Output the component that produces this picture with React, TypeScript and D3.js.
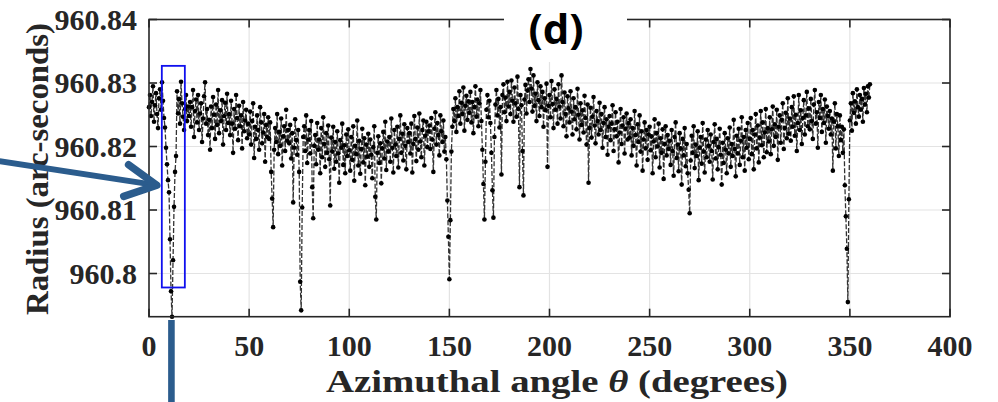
import React from 'react';
import * as d3 from 'd3';

const xTicks = [0, 50, 100, 150, 200, 250, 300, 350, 400];
const xTickLabels = ['0', '50', '100', '150', '200', '250', '300', '350', '400'];
const yTicks = [960.8, 960.81, 960.82, 960.83, 960.84];
const yTickLabels = ['960.8', '960.81', '960.82', '960.83', '960.84'];

// sampling step of the azimuthal angle (degrees)
const ANGLE_STEP = 0.5;

// radius (arc-seconds), one value every 0.5 degree from 0 to 360
const radius = [
  // 0 - 9.5
  960.8262, 960.8281, 960.8248, 960.8270, 960.8295, 960.8239, 960.8265, 960.8284, 960.8251, 960.8229,
  960.8276, 960.8290, 960.8258, 960.8301, 960.8272, 960.8245, 960.8230, 960.8198, 960.8172, 960.8147,
  // 10 - 19.5
  960.8128, 960.8054, 960.7972, 960.7932, 960.8021, 960.8105, 960.8160, 960.8185, 960.8287, 960.8252,
  960.8275, 960.8236, 960.8302, 960.8268, 960.8247, 960.8226, 960.8259, 960.8281, 960.8240, 960.8263,
  // 20 - 29.5
  960.8248, 960.8270, 960.8231, 960.8262, 960.8289, 960.8215, 960.8256, 960.8274, 960.8238, 960.8281,
  960.8226, 960.8252, 960.8268, 960.8207, 960.8244, 960.8279, 960.8301, 960.8236, 960.8259, 960.8218,
  // 30 - 39.5
  960.8242, 960.8195, 960.8263, 960.8229, 960.8278, 960.8250, 960.8212, 960.8266, 960.8234, 960.8289,
  960.8221, 960.8257, 960.8240, 960.8273, 960.8203, 960.8248, 960.8269, 960.8226, 960.8283, 960.8237,
  // 40 - 49.5
  960.8251, 960.8218, 960.8272, 960.8236, 960.8190, 960.8259, 960.8228, 960.8281, 960.8245, 960.8210,
  960.8264, 960.8232, 960.8249, 960.8197, 960.8270, 960.8224, 960.8241, 960.8258, 960.8213, 960.8236,
  // 50 - 59.5
  960.8219, 960.8255, 960.8203, 960.8240, 960.8268, 960.8182, 960.8231, 960.8212, 960.8249, 960.8226,
  960.8195, 960.8262, 960.8238, 960.8205, 960.8222, 960.8251, 960.8176, 960.8234, 960.8215, 960.8246,
  // 60 - 69.5
  960.8212, 960.8238, 960.8160, 960.8118, 960.8073, 960.8195, 960.8229, 960.8207, 960.8251, 960.8188,
  960.8223, 960.8201, 960.8244, 960.8170, 960.8216, 960.8232, 960.8193, 960.8258, 960.8209, 960.8226,
  // 70 - 79.5
  960.8205, 960.8234, 960.8181, 960.8221, 960.8112, 960.8198, 960.8243, 960.8210, 960.8187, 960.8226,
  960.8160, 960.7987, 960.7942, 960.8104, 960.8215, 960.8232, 960.8193, 960.8249, 960.8174, 960.8211,
  // 80 - 89.5
  960.8226, 960.8189, 960.8240, 960.8136, 960.8087, 960.8201, 960.8218, 960.8172, 960.8237, 960.8195,
  960.8211, 960.8158, 960.8229, 960.8183, 960.8246, 960.8204, 960.8168, 960.8221, 960.8190, 960.8233,
  // 90 - 99.5
  960.8180, 960.8107, 960.8214, 960.8192, 960.8231, 960.8165, 960.8207, 960.8176, 960.8224, 960.8189,
  960.8143, 960.8210, 960.8198, 960.8236, 960.8171, 960.8202, 960.8158, 960.8219, 960.8185, 960.8227,
  // 100 - 109.5
  960.8194, 960.8162, 960.8215, 960.8179, 960.8232, 960.8146, 960.8201, 960.8188, 960.8241, 960.8170,
  960.8209, 960.8157, 960.8196, 960.8228, 960.8175, 960.8213, 960.8139, 960.8203, 960.8184, 960.8220,
  // 110 - 119.5
  960.8168, 960.8211, 960.8187, 960.8150, 960.8199, 960.8232, 960.8121, 960.8085, 960.8190, 960.8216,
  960.8174, 960.8205, 960.8142, 960.8197, 960.8223, 960.8181, 960.8239, 960.8163, 960.8208, 960.8192,
  // 120 - 129.5
  960.8215, 960.8176, 960.8244, 960.8198, 960.8159, 960.8226, 960.8203, 960.8185, 960.8231, 960.8167,
  960.8212, 960.8249, 960.8190, 960.8220, 960.8178, 960.8235, 960.8201, 960.8164, 960.8229, 960.8207,
  // 130 - 139.5
  960.8221, 960.8189, 960.8236, 960.8159, 960.8204, 960.8248, 960.8212, 960.8177, 960.8230, 960.8195,
  960.8252, 960.8208, 960.8183, 960.8226, 960.8241, 960.8170, 960.8217, 960.8239, 960.8199, 960.8224,
  // 140 - 149.5
  960.8233, 960.8196, 960.8245, 960.8211, 960.8160, 960.8228, 960.8254, 960.8203, 960.8237, 960.8218,
  960.8186, 960.8249, 960.8224, 960.8207, 960.8241, 960.8192, 960.8215, 960.8180, 960.8115, 960.8058,
  // 150 - 159.5
  960.7991, 960.8084, 960.8192, 960.8231, 960.8259, 960.8240, 960.8276, 960.8223, 960.8262, 960.8248,
  960.8287, 960.8236, 960.8269, 960.8251, 960.8293, 960.8225, 960.8264, 960.8280, 960.8242, 960.8271,
  // 160 - 169.5
  960.8253, 960.8286, 960.8238, 960.8270, 960.8221, 960.8262, 960.8295, 960.8247, 960.8274, 960.8232,
  960.8268, 960.8289, 960.8240, 960.8195, 960.8141, 960.8085, 960.8176, 960.8258, 960.8281, 960.8246,
  // 170 - 179.5
  960.8272, 960.8237, 960.8190, 960.8131, 960.8088, 960.8215, 960.8266, 960.8289, 960.8249, 960.8275,
  960.8230, 960.8262, 960.8156, 960.8281, 960.8298, 960.8254, 960.8277, 960.8240, 960.8302, 960.8263,
  // 180 - 189.5
  960.8286, 960.8251, 960.8304, 960.8272, 960.8239, 960.8293, 960.8268, 960.8247, 960.8310, 960.8259,
  960.8136, 960.8281, 960.8265, 960.8193, 960.8123, 960.8274, 960.8297, 960.8252, 960.8288, 960.8306,
  // 190 - 199.5
  960.8270, 960.8322, 960.8291, 960.8255, 960.8312, 960.8264, 960.8283, 960.8240, 960.8301, 960.8273,
  960.8248, 960.8295, 960.8262, 960.8286, 960.8231, 960.8276, 960.8257, 960.8299, 960.8168, 960.8264,
  // 200 - 209.5
  960.8281, 960.8246, 960.8303, 960.8267, 960.8229, 960.8290, 960.8258, 960.8275, 960.8236, 960.8298,
  960.8263, 960.8244, 960.8312, 960.8270, 960.8232, 960.8285, 960.8251, 960.8216, 960.8279, 960.8260,
  // 210 - 219.5
  960.8238, 960.8287, 960.8255, 960.8219, 960.8276, 960.8243, 960.8262, 960.8227, 960.8291, 960.8250,
  960.8211, 960.8268, 960.8234, 960.8257, 960.8222, 960.8280, 960.8245, 960.8203, 960.8266, 960.8143,
  // 220 - 229.5
  960.8229, 960.8261, 960.8214, 960.8247, 960.8278, 960.8233, 960.8205, 960.8256, 960.8240, 960.8219,
  960.8269, 960.8226, 960.8251, 960.8198, 960.8237, 960.8262, 960.8215, 960.8243, 960.8187, 960.8231,
  // 230 - 239.5
  960.8248, 960.8210, 960.8236, 960.8265, 960.8193, 960.8227, 960.8254, 960.8216, 960.8239, 960.8175,
  960.8222, 960.8259, 960.8204, 960.8233, 960.8246, 960.8189, 960.8228, 960.8252, 960.8211, 960.8237,
  // 240 - 249.5
  960.8214, 960.8243, 960.8186, 960.8229, 960.8201, 960.8256, 960.8218, 960.8170, 960.8235, 960.8207,
  960.8249, 960.8192, 960.8224, 960.8162, 960.8211, 960.8238, 960.8197, 960.8226, 960.8179, 960.8219,
  // 250 - 259.5
  960.8231, 960.8194, 960.8216, 960.8158, 960.8208, 960.8243, 960.8183, 960.8221, 960.8200, 960.8236,
  960.8167, 960.8213, 960.8190, 960.8227, 960.8149, 960.8204, 960.8232, 960.8186, 960.8218, 960.8196,
  // 260 - 269.5
  960.8209, 960.8171, 960.8226, 960.8193, 960.8154, 960.8215, 960.8238, 960.8182, 960.8203, 960.8161,
  960.8221, 960.8197, 960.8140, 960.8212, 960.8186, 960.8229, 960.8169, 960.8204, 960.8158, 960.8132,
  // 270 - 279.5
  960.8095, 960.8178, 960.8217, 960.8190, 960.8232, 960.8166, 960.8203, 960.8185, 960.8224, 960.8147,
  960.8198, 960.8215, 960.8173, 960.8237, 960.8192, 960.8159, 960.8211, 960.8183, 960.8226, 960.8201,
  // 280 - 289.5
  960.8176, 960.8219, 960.8193, 960.8148, 960.8207, 960.8235, 960.8181, 960.8212, 960.8164, 960.8199,
  960.8228, 960.8187, 960.8140, 960.8206, 960.8174, 960.8221, 960.8195, 960.8158, 960.8213, 960.8189,
  // 290 - 299.5
  960.8230, 960.8168, 960.8204, 960.8185, 960.8242, 960.8196, 960.8153, 960.8217, 960.8189, 960.8228,
  960.8171, 960.8209, 960.8246, 960.8183, 960.8215, 960.8162, 960.8226, 960.8198, 960.8237, 960.8180,
  // 300 - 309.5
  960.8212, 960.8245, 960.8188, 960.8226, 960.8164, 960.8219, 960.8251, 960.8197, 960.8233, 960.8175,
  960.8214, 960.8256, 960.8202, 960.8238, 960.8183, 960.8222, 960.8259, 960.8191, 960.8229, 960.8208,
  // 310 - 319.5
  960.8246, 960.8188, 960.8227, 960.8263, 960.8201, 960.8235, 960.8215, 960.8258, 960.8179, 960.8231,
  960.8249, 960.8206, 960.8242, 960.8268, 960.8196, 960.8229, 960.8253, 960.8213, 960.8276, 960.8220,
  // 320 - 329.5
  960.8244, 960.8209, 960.8262, 960.8231, 960.8279, 960.8217, 960.8250, 960.8193, 960.8237, 960.8281,
  960.8226, 960.8257, 960.8204, 960.8245, 960.8273, 960.8219, 960.8249, 960.8286, 960.8232, 960.8260,
  // 330 - 339.5
  960.8227, 960.8275, 960.8240, 960.8212, 960.8266, 960.8289, 960.8236, 960.8254, 960.8198, 960.8270,
  960.8245, 960.8281, 960.8223, 960.8259, 960.8237, 960.8274, 960.8206, 960.8263, 960.8248, 960.8228,
  // 340 - 349.5
  960.8256, 960.8219, 960.8244, 960.8162, 960.8239, 960.8268, 960.8197, 960.8251, 960.8232, 960.8185,
  960.8249, 960.8210, 960.8231, 960.8190, 960.8227, 960.8139, 960.8090, 960.8039, 960.7955, 960.8117,
  // 350 - 359.5
  960.8241, 960.8268, 960.8225, 960.8284, 960.8253, 960.8271, 960.8236, 960.8290, 960.8262, 960.8247,
  960.8281, 960.8258, 960.8275, 960.8239, 960.8292, 960.8266, 960.8283, 960.8254, 960.8295, 960.8277,
  // 360
  960.8298,
];

// annotations, in data coordinates (angle in degrees, radius in arc-seconds)
const highlightAngles = [6.4, 17.9];
const highlightRadii = [960.7978, 960.8327];
const arrowStart = [-74.6, 960.8177];
const arrowTip = [3.9, 960.8139];
const markerAngle = 11.2;

const W = 998;
const H = 402;
const X0 = 149;
const X1 = 950;
const Y_TOP = 19.5;
const Y_BOT = 316.7;

const serif = '"Liberation Serif", "Times New Roman", serif';
const TXT = '#262626';
const ANN = '#2b5c8d';

export default function App() {
  const x = d3.scaleLinear().domain([0, 400]).range([X0, X1]);
  const y = d3.scaleLinear().domain([960.7932, 960.84]).range([Y_BOT, Y_TOP]);

  const pts = radius.map((r, i) => [i * ANGLE_STEP, r] as [number, number]);
  const line = d3
    .line<[number, number]>()
    .x((d) => x(d[0]))
    .y((d) => y(d[1]));

  const tick = 8;

  // arrow geometry
  const ax0 = x(arrowStart[0]);
  const ay0 = y(arrowStart[1]);
  const ax1 = x(arrowTip[0]);
  const ay1 = y(arrowTip[1]);
  const len = Math.hypot(ax1 - ax0, ay1 - ay0);
  const ux = (ax1 - ax0) / len;
  const uy = (ay1 - ay0) / len;
  const back = 31;
  const spread = 16;
  const hx = ax1 - ux * back;
  const hy = ay1 - uy * back;
  const arm1 = [hx - uy * spread, hy + ux * spread];
  const arm2 = [hx + uy * spread, hy - ux * spread];

  return (
    <svg
      width={W}
      height={H}
      style={{ position: 'absolute', left: 0, top: 0, background: '#fff' }}
    >
      <rect x={0} y={0} width={W} height={H} fill="#fff" />
      {/* grid */}
      <g stroke="#e3e3e3" strokeWidth={1.2}>
        {xTicks.slice(1, -1).map((t) => (
          <line key={'gx' + t} x1={x(t)} x2={x(t)} y1={Y_TOP} y2={Y_BOT} />
        ))}
        {yTicks.slice(0, -1).map((t) => (
          <line key={'gy' + t} x1={X0} x2={X1} y1={y(t)} y2={y(t)} />
        ))}
      </g>

      {/* data */}
      <path
        d={line(pts) || ''}
        fill="none"
        stroke="#333"
        strokeWidth={1.3}
        strokeDasharray="5,2"
      />
      <g fill="#000">
        {pts.map((d, i) => (
          <circle key={i} cx={x(d[0])} cy={y(d[1])} r={2.3} />
        ))}
      </g>

      {/* axes box */}
      <g stroke={TXT} strokeWidth={1.6} fill="none">
        <rect x={X0} y={Y_TOP} width={X1 - X0} height={Y_BOT - Y_TOP} />
        {xTicks.map((t) => (
          <g key={'tx' + t}>
            <line x1={x(t)} x2={x(t)} y1={Y_BOT} y2={Y_BOT - tick} />
            <line x1={x(t)} x2={x(t)} y1={Y_TOP} y2={Y_TOP + tick} />
          </g>
        ))}
        {yTicks.map((t) => (
          <g key={'ty' + t}>
            <line x1={X0} x2={X0 + tick} y1={y(t)} y2={y(t)} />
            <line x1={X1} x2={X1 - tick} y1={y(t)} y2={y(t)} />
          </g>
        ))}
      </g>

      {/* tick labels */}
      <g fontFamily={serif} fontWeight="bold" fontSize={30} fill={TXT}>
        {xTicks.map((t, i) => (
          <text key={'lx' + t} x={x(t)} y={356} textAnchor="middle">
            {xTickLabels[i]}
          </text>
        ))}
        {yTicks.map((t, i) => (
          <text key={'ly' + t} x={137} y={y(t) + 10} textAnchor="end">
            {yTickLabels[i]}
          </text>
        ))}
      </g>

      {/* axis titles */}
      <text
        x={557}
        y={392}
        textAnchor="middle"
        fontFamily={serif}
        fontWeight="bold"
        fontSize={32}
        fill={TXT}
        textLength={462}
        lengthAdjust="spacingAndGlyphs"
      >
        Azimuthal angle <tspan fontStyle="italic">θ</tspan> (degrees)
      </text>
      <text
        transform={`translate(48,169) rotate(-90)`}
        textAnchor="middle"
        fontFamily={serif}
        fontWeight="bold"
        fontSize={32}
        fill={TXT}
        textLength={292}
        lengthAdjust="spacingAndGlyphs"
      >
        Radius (arc-seconds)
      </text>

      {/* title with white backing over the top axis */}
      <rect x={504} y={0} width={123} height={62} fill="#fff" />
      <text
        x={556}
        y={44}
        textAnchor="middle"
        fontFamily='"Open Sans", "Liberation Sans", sans-serif'
        fontWeight="bold"
        fontSize={42}
        fill="#000"
      >
        (d)
      </text>

      {/* highlight box */}
      <rect
        x={x(highlightAngles[0])}
        y={y(highlightRadii[1])}
        width={x(highlightAngles[1]) - x(highlightAngles[0])}
        height={y(highlightRadii[0]) - y(highlightRadii[1])}
        fill="none"
        stroke="#1010ee"
        strokeWidth={1.8}
      />

      {/* arrow */}
      <line
        x1={ax0}
        y1={ay0}
        x2={ax1 - ux * 4}
        y2={ay1 - uy * 4}
        stroke={ANN}
        strokeWidth={6}
      />
      <polyline
        points={`${arm1[0]},${arm1[1]} ${ax1},${ay1} ${arm2[0]},${arm2[1]}`}
        fill="none"
        stroke={ANN}
        strokeWidth={7.5}
        strokeLinecap="round"
        strokeLinejoin="round"
      />

      {/* vertical marker bar below the axis */}
      <rect x={x(markerAngle) - 3.3} y={320} width={6.6} height={H - 320} fill={ANN} />
    </svg>
  );
}
